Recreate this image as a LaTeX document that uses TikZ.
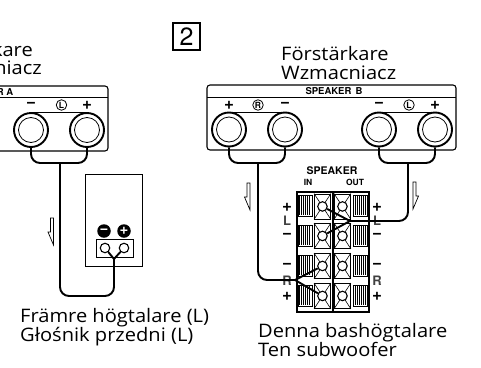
\documentclass[tikz,border=0pt]{standalone}
\usepackage{fontspec}
\setmainfont[FakeStretch=1.08]{Open Sans}
\newfontfamily\heros{TeX Gyre Heros}
\tikzset{
  x=1pt,y=-1pt,
  lbl/.style={inner sep=0pt,anchor=base west,font=\fontsize{18.6}{18.6}\selectfont},
  lble/.style={lbl,anchor=base east},
  amp/.style={draw,line width=1.1pt,rounded corners=3pt},
  thin line/.style={line width=1pt},
  wire/.style={line width=1.9pt,rounded corners=9pt},
  fork/.style={line width=1.9pt},
  outerpost/.style={circle,draw,line width=1.9pt,minimum size=34pt,inner sep=0pt,fill=white},
  innerpost/.style={circle,draw,line width=0.8pt,minimum size=25pt,inner sep=0pt},
  sign/.style={inner sep=0pt,font=\heros\bfseries\fontsize{17}{17}\selectfont},
  chan/.style={circle,draw,line width=0.8pt,minimum size=10.5pt,inner sep=0pt,font=\heros\bfseries\fontsize{8.5}{8.5}\selectfont},
  tiny/.style={inner sep=0pt,font=\heros\bfseries\fontsize{9.5}{9.5}\selectfont},
  blk/.style={inner sep=0pt,text=black!75,font=\heros\bfseries\fontsize{13}{13}\selectfont},
  hollow/.style={draw,line width=0.7pt,fill=white,line join=miter},
  term/.style={circle,draw,line width=1.1pt,minimum size=9.5pt,inner sep=0pt,fill=white},
  pole/.style={circle,fill=black,minimum size=13.5pt,inner sep=0pt,text=white,font=\heros\bfseries\fontsize{15}{15}\selectfont},
}
% arrows: #1 straight edge x, #2 top y; the head flares away from the straight edge
\newcommand{\hollowarrowL}[2]{%
  \path[hollow] (#1-3,#2) -- (#1,#2) -- (#1,#2+27) -- (#1-5.5,#2+14) -- (#1-3,#2+14) -- cycle;
}
\newcommand{\hollowarrowR}[2]{%
  \path[hollow] (#1+3,#2) -- (#1,#2) -- (#1,#2+27) -- (#1+5.5,#2+14) -- (#1+3,#2+14) -- cycle;
}
\newcommand{\hatched}[3]{% x, y, name
  \node[draw,line width=1.1pt,minimum width=14pt,minimum height=21pt,inner sep=0pt,anchor=north west] (#3) at (#1,#2) {};
  \foreach \k in {2,4,...,12} \draw[line width=0.7pt] (#1+\k,#2+1) -- (#1+\k,#2+20);
}
\newcommand{\xbox}[3]{% x, y, name
  \node[draw,line width=0.9pt,minimum width=16pt,minimum height=25pt,inner sep=0pt,anchor=north west] (#3) at (#1,#2) {};
  \draw[line width=0.6pt] (#3.north west) -- (#3.south east) (#3.north east) -- (#3.south west);
  \node[term] (#3t) at (#3.center) {};
}
\begin{document}
\begin{tikzpicture}
\useasboundingbox (0,0) rectangle (481,367);
% panel number
\node[draw,line width=1.1pt,minimum size=27pt,inner sep=0pt,font=\heros\fontsize{25}{25}\selectfont] (num) at (186.5,36.5) {2};
% Left amplifier
\node[lble] (ampA1) at (33,56) {Förstärkare};
\node[lble] (ampA2) at (42,74.5) {Wzmacniacz};
\draw[amp] (-10,86) rectangle (108,151);
\draw[thin line] (-10,97.5) -- (108,97.5);
\node[tiny,anchor=east] (spkA) at (13.5,92) {SPEAKER A};
\draw[thin line] (31,112.5) -- (87,112.5);
\node[outerpost] (a1) at (31,130) {}; \node[innerpost] at (31,130) {};
\node[outerpost] (a2) at (87,130) {}; \node[innerpost] at (87,130) {};
\node[sign] (a1s) at (31,105) {−};
\node[chan] (aL) at (61.5,105) {L};
\node[sign] (a2s) at (87,105) {+};
% Left speaker
\node[draw,line width=1.1pt,minimum width=57pt,minimum height=92pt,inner sep=0pt,anchor=north west] (spk) at (85,174) {};
\node[pole] (pm) at (104,231) {−};
\node[pole] (pp) at (124,231) {+};
\node[draw,line width=1.1pt,minimum width=37pt,minimum height=18pt,inner sep=0pt,anchor=north west] (plate) at (96,239) {};
\coordinate (jA) at (114,259);
\coordinate (brA) at (60,163);
\draw[wire] (a1.south) -- (31,163) -- (87,163) -- (a2.south);
\draw[wire] (brA) -- (60,296) -- (114,296) -- (jA);
\node[term] (tm) at (105,248) {};
\node[term] (tp) at (124,248) {};
\draw[fork] (tm) -- (jA) -- (tp);
\hollowarrowL{53.5}{218}
\node[lbl] (frA1) at (20,322.7) {Främre högtalare (L)};
\node[lbl] (frA2) at (20,341.5) {Głośnik przedni (L)};
% Right amplifier
\node[lbl] (ampB1) at (281,60.5) {Förstärkare};
\node[lbl] (ampB2) at (281,79) {Wzmacniacz};
\draw[amp] (207,85) rectangle (456,150);
\draw[thin line] (207,97) -- (456,97);
\node[tiny] (spkB) at (334,91.5) {SPEAKER\, B};
\draw[thin line] (229,112.5) -- (285,112.5);
\draw[thin line] (379,112.5) -- (435,112.5);
\foreach \n/\x in {b1/229,b2/285,b3/379,b4/435}{
  \node[outerpost] (\n) at (\x,129.5) {}; \node[innerpost] at (\x,129.5) {};
}
\node[sign] at (229,105) {+};
\node[chan] (bR) at (258,105) {R};
\node[sign] at (285,105) {−};
\node[sign] at (379,105) {−};
\node[chan] (bL) at (409,105) {L};
\node[sign] at (435,105) {+};
% Terminal block
\node[tiny] (sp) at (332,170.5) {\fontsize{10.5}{10.5}\selectfont SPEAKER};
\node[tiny] (in) at (308,182) {\fontsize{8.5}{8.5}\selectfont IN};
\node[tiny] (out) at (355,182) {\fontsize{8.5}{8.5}\selectfont OUT};
\node[draw,line width=1.6pt,minimum width=72pt,minimum height=120pt,inner sep=0pt,anchor=north west] (blkbox) at (296,191) {};
\draw[line width=0.6pt] (332,191) -- (332,311) (333.5,191) -- (333.5,311);
\foreach \r/\y in {1/195,2/225,3/255,4/285}{
  \hatched{297.5}{\y}{hl\r}
  \hatched{353}{\y}{hr\r}
}
\foreach \r/\y in {1/193.5,2/223,3/253,4/283}{
  \xbox{314}{\y}{ci\r}
  \xbox{334}{\y}{co\r}
}
\foreach \s/\t/\y/\f in {+/+/207/sign,L/L/221/blk,−/−/236/sign,−/−/266/sign,R/R/281/blk,+/+/296/sign}{
  \node[\f] at (287,\y) {\s};
  \node[\f] at (377,\y) {\t};
}
% Wires right
\coordinate (jL) at (350,221);
\coordinate (jR) at (295,280);
\draw[wire] (b1.south) -- (229,163) -- (285,163) -- (b2.south);
\draw[wire] (b3.south) -- (379,163) -- (435,163) -- (b4.south);
\draw[wire] (258,163) -- (258,280) -- (jR);
\draw[wire] (408,163) -- (408,221) -- (jL);
\draw[fork] (ci1t) -- (jL) -- (ci2t);
\draw[fork] (ci3t) -- (jR) -- (ci4t);
\hollowarrowL{250}{183}
\hollowarrowR{413}{182}
\node[lbl] (de) at (258,337.7) {Denna bashögtalare};
\node[lbl] (te) at (258,356.7) {Ten subwoofer};
\end{tikzpicture}
\end{document}
